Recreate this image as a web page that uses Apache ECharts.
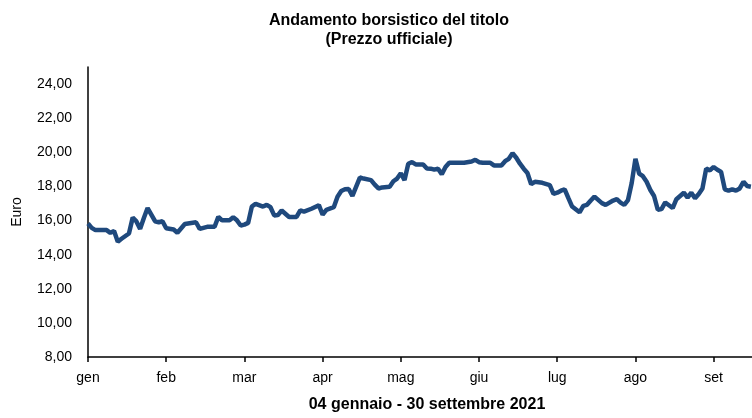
<!DOCTYPE html>
<html>
<head>
    <meta charset="UTF-8">
    <script src="https://cdn.jsdelivr.net/npm/echarts@6/dist/echarts.min.js"></script>
    <style>
        html, body { margin: 0; padding: 0; background: #fff; }
    </style>
</head>
<body>
<div id="chartMain" style="width: 752px; height: 418px;"></div>

<script type="text/javascript">
    // mesi sull'asse x, un tick ogni 21 sedute
    var mesi = ['gen', 'feb', 'mar', 'apr', 'mag', 'giu', 'lug', 'ago', 'set'];
    var sedutePerMese = 21;

    // numero della seduta (dal 04/01/2021) e prezzo ufficiale in euro
    var giorni = [0, 1, 2, 5, 6, 7, 8, 9, 11, 12, 13, 14, 15, 16, 17, 18, 19, 20, 21, 23,
        24, 26, 29, 30, 32, 34, 35, 36, 38, 39, 40, 41, 42, 43, 44, 45, 47, 48, 49, 50,
        51, 52, 54, 56, 57, 58, 60, 62, 63, 64, 66, 67, 68, 69, 70, 71, 73, 74, 76, 77,
        78, 79, 81, 82, 83, 84, 85, 86, 87, 88, 90, 91, 92, 93, 94, 95, 96, 97, 99, 101,
        103, 104, 105, 106, 108, 109, 111, 112, 113, 114, 115, 116, 117, 118, 119, 120, 122, 124, 125, 126,
        127, 128, 129, 130, 132, 133, 134, 135, 136, 138, 139, 141, 142, 143, 144, 145, 146, 147, 148, 149,
        150, 151, 152, 153, 154, 155, 157, 158, 159, 160, 161, 162, 163, 164, 165, 166, 167, 168, 169, 170,
        171, 172, 173, 174, 175, 176, 177, 178];
    var prezzi = [15.82, 15.57, 15.44, 15.44, 15.28, 15.38, 14.76, 14.93, 15.24, 16.17, 15.95, 15.51, 16.15, 16.73, 16.35, 15.96, 15.90, 15.96, 15.55, 15.47,
        15.28, 15.80, 15.90, 15.51, 15.63, 15.63, 16.22, 16.01, 16.01, 16.19, 16.01, 15.71, 15.76, 15.86, 16.82, 16.98, 16.82, 16.92, 16.78, 16.30,
        16.32, 16.59, 16.21, 16.21, 16.59, 16.52, 16.69, 16.90, 16.34, 16.63, 16.78, 17.40, 17.73, 17.83, 17.85, 17.44, 18.52, 18.46, 18.37, 18.10,
        17.88, 17.94, 17.98, 18.30, 18.46, 18.77, 18.37, 19.33, 19.42, 19.29, 19.29, 19.05, 19.04, 18.98, 19.04, 18.71, 19.14, 19.39, 19.39, 19.39,
        19.46, 19.56, 19.42, 19.39, 19.39, 19.23, 19.23, 19.48, 19.62, 19.95, 19.68, 19.33, 19.04, 18.79, 18.13, 18.27, 18.21, 18.08, 17.56, 17.63,
        17.75, 17.83, 17.31, 16.82, 16.48, 16.86, 16.92, 17.17, 17.40, 17.02, 16.92, 17.17, 17.25, 17.05, 16.92, 17.20, 18.20, 19.62, 18.75, 18.60,
        18.27, 17.79, 17.44, 16.63, 16.67, 17.06, 16.73, 17.25, 17.44, 17.63, 17.34, 17.63, 17.31, 17.56, 17.88, 19.04, 18.94, 19.14, 18.98, 18.85,
        17.83, 17.75, 17.83, 17.75, 17.88, 18.27, 18.02, 17.98];

    var datiLinea = [];
    for (var i = 0; i < giorni.length; i++) {
        datiLinea.push([giorni[i], prezzi[i]]);
    }

    var myChart = echarts.init(document.getElementById('chartMain'));
    var option = {
        animation: false,
        title: {
            text: 'Andamento borsistico del titolo\n(Prezzo ufficiale)',
            left: 384,
            top: 6,
            textAlign: 'center',
            textStyle: {
                fontFamily: 'Liberation Sans',
                fontSize: 16,
                fontWeight: 'bold',
                lineHeight: 19,
                color: '#000'
            }
        },
        grid: {
            left: 88,
            right: 0,
            top: 67,
            bottom: 55
        },
        xAxis: {
            type: 'value',
            min: 0,
            max: 178.3,
            interval: sedutePerMese,
            name: '04 gennaio - 30 settembre 2021',
            nameLocation: 'middle',
            nameGap: 40,
            nameTextStyle: {
                fontFamily: 'Liberation Sans',
                fontSize: 16,
                fontWeight: 'bold',
                color: '#000',
                padding: [0, 0, 0, 14]
            },
            axisLine: { lineStyle: { color: '#000', width: 1.5 } },
            axisTick: { show: true, length: 5, lineStyle: { color: '#000', width: 1.5 } },
            axisLabel: {
                showMaxLabel: false,
                margin: 14,
                fontFamily: 'Liberation Sans',
                fontSize: 14,
                color: '#000',
                formatter: function (v) {
                    return v % sedutePerMese === 0 ? mesi[v / sedutePerMese] : '';
                }
            },
            splitLine: { show: false }
        },
        yAxis: {
            type: 'value',
            min: 8,
            max: 25,
            interval: 2,
            name: 'Euro',
            nameLocation: 'middle',
            nameRotate: 90,
            nameGap: 64,
            nameTextStyle: {
                fontFamily: 'Liberation Sans',
                fontSize: 14,
                color: '#000'
            },
            axisLine: { show: true, lineStyle: { color: '#000', width: 1.5 } },
            axisTick: { show: false },
            axisLabel: {
                showMaxLabel: false,
                margin: 16,
                fontFamily: 'Liberation Sans',
                fontSize: 14,
                color: '#000',
                formatter: function (v) {
                    return v.toFixed(2).replace('.', ',');
                }
            },
            splitLine: { show: false }
        },
        series: [
            {
                name: 'Prezzo ufficiale',
                type: 'line',
                data: datiLinea,
                showSymbol: false,
                lineStyle: { color: '#1F497D', width: 4.5 },
                itemStyle: { color: '#1F497D' }
            }
        ]
    };
    myChart.setOption(option);
</script>
</body>
</html>
